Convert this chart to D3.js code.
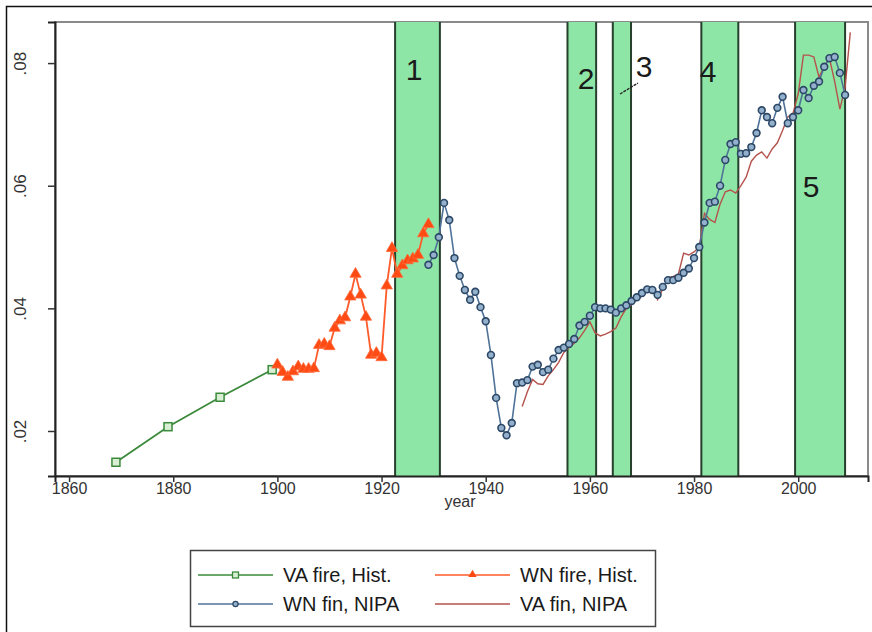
<!DOCTYPE html>
<html>
<head>
<meta charset="utf-8">
<script src="https://cdn.jsdelivr.net/npm/d3@7"></script>
<style>
  body { margin: 0; background: #fff; }
  svg { font-family: Arial, "Liberation Sans", sans-serif; }
</style>
</head>
<body>
<svg id="chart" width="872" height="632"></svg>
<script>
// VA fire, Hist. (decennial)
var vaFireYears = [1869, 1879, 1889, 1899];
var vaFireVals = [0.0149, 0.0207, 0.0255, 0.0300];

// WN fire, Hist. (annual 1900-1929)
var wnFireYears = d3.range(1900, 1930);
var wnFireVals = [0.0308, 0.0296, 0.0288, 0.0297, 0.0305, 0.0301, 0.0301, 0.0302, 0.0340, 0.0342,
                  0.0338, 0.0368, 0.0380, 0.0385, 0.0419, 0.0456, 0.0422, 0.0386, 0.0324, 0.0327,
                  0.0320, 0.0437, 0.0498, 0.0456, 0.0470, 0.0478, 0.0481, 0.0487, 0.0522, 0.0537];

// WN fin, NIPA (annual 1929-2009)
var wnFinYears = d3.range(1929, 2010);
var wnFinVals = [0.0471, 0.0487, 0.0516, 0.0572, 0.0544, 0.0482, 0.0453, 0.0430, 0.0414, 0.0427,
                 0.0402, 0.0379, 0.0324, 0.0254, 0.0205, 0.0193, 0.0213, 0.0278, 0.0279, 0.0283,
                 0.0305, 0.0308, 0.0296, 0.0300, 0.0318, 0.0332, 0.0336, 0.0342, 0.0350, 0.0372,
                 0.0378, 0.0388, 0.0402, 0.0400, 0.0400, 0.0398, 0.0393, 0.0400, 0.0405, 0.0412,
                 0.0418, 0.0425, 0.0431, 0.0430, 0.0422, 0.0435, 0.0446, 0.0446, 0.0450, 0.0458,
                 0.0465, 0.0482, 0.0500, 0.0540, 0.0572, 0.0574, 0.0600, 0.0642, 0.0668, 0.0671,
                 0.0652, 0.0653, 0.0663, 0.0686, 0.0723, 0.0712, 0.0702, 0.0727, 0.0745, 0.0702,
                 0.0712, 0.0723, 0.0756, 0.0743, 0.0763, 0.0770, 0.0794, 0.0808, 0.0810, 0.0784,
                 0.0748];

// VA fin, NIPA (annual 1947-2010)
var vaFinYears = d3.range(1947, 2011);
var vaFinVals = [0.0240, 0.0264, 0.0284, 0.0277, 0.0276, 0.0290, 0.0300, 0.0312, 0.0328, 0.0336,
                 0.0343, 0.0352, 0.0364, 0.0378, 0.0360, 0.0355, 0.0358, 0.0362, 0.0368, 0.0386,
                 0.0400, 0.0406, 0.0414, 0.0420, 0.0428, 0.0430, 0.0414, 0.0432, 0.0450, 0.0452,
                 0.0456, 0.0490, 0.0487, 0.0492, 0.0500, 0.0555, 0.0545, 0.0540, 0.0570, 0.0590,
                 0.0593, 0.0588, 0.0600, 0.0614, 0.0640, 0.0650, 0.0655, 0.0645, 0.0660, 0.0670,
                 0.0690, 0.0712, 0.0718, 0.0750, 0.0813, 0.0813, 0.0810, 0.0777, 0.0795, 0.0808,
                 0.0770, 0.0725, 0.0760, 0.0850];

// shaded episodes
var bandLabels = ['1', '2', '3', '4', '5'];
var bandStart = [1922.6, 1955.7, 1964.4, 1981.4, 1999.4];
var bandEnd = [1931.2, 1961.2, 1967.9, 1988.5, 2009.0];

var xTicks = [1860, 1880, 1900, 1920, 1940, 1960, 1980, 2000];
var yTicks = [0.02, 0.04, 0.06, 0.08];
var legendLabels = ['VA fire, Hist.', 'WN fire, Hist.', 'WN fin, NIPA', 'VA fin, NIPA'];

function zip(years, vals) {
    return years.map(function(yr, i) { return {year: yr, v: vals[i]}; });
}

var svg = d3.select('#chart');
var plot = {left: 55, top: 22, right: 868, bottom: 476};

var x = d3.scaleLinear().domain([1857.3, 2013.4]).range([plot.left, plot.right]);
var y = d3.scaleLinear().domain([0.01266, 0.0867]).range([plot.bottom, plot.top]);

// outer frame of the picture
svg.append('rect')
    .attr('x', 6.5).attr('y', 6.5)
    .attr('width', 870).attr('height', 640)
    .style('fill', 'none').style('stroke', '#111').style('stroke-width', 1.5);

// plot region frame
svg.append('rect')
    .attr('x', plot.left).attr('y', plot.top)
    .attr('width', plot.right - plot.left).attr('height', plot.bottom - plot.top)
    .style('fill', '#fff').style('stroke', '#8a8a8a').style('stroke-width', 2);

// bands
var bands = bandLabels.map(function(l, i) { return {label: l, a: bandStart[i], b: bandEnd[i]}; });
var bandG = svg.append('g');
bandG.selectAll('rect').data(bands).enter().append('rect')
    .attr('x', function(d) { return x(d.a); })
    .attr('y', plot.top)
    .attr('width', function(d) { return x(d.b) - x(d.a); })
    .attr('height', plot.bottom - plot.top)
    .style('fill', '#8ee6a6');
bands.forEach(function(d) {
    [d.a, d.b].forEach(function(edge) {
        bandG.append('line')
            .attr('x1', x(edge)).attr('x2', x(edge))
            .attr('y1', plot.top).attr('y2', plot.bottom)
            .style('stroke', '#26402d').style('stroke-width', 2);
    });
});

// band numbers (placed as in the original)
var labelPos = [[414, 80], [586, 89], [644, 77], [708, 82], [811, 197]];
bandG.selectAll('text.band').data(bands).enter().append('text')
    .attr('class', 'band')
    .attr('x', function(d, i) { return labelPos[i][0]; })
    .attr('y', function(d, i) { return labelPos[i][1]; })
    .attr('text-anchor', 'middle')
    .style('font-size', '30px')
    .style('fill', '#1a1a1a')
    .text(function(d) { return d.label; });
// little pointer for "3"
bandG.append('line')
    .attr('x1', 620).attr('y1', 94).attr('x2', 638).attr('y2', 83)
    .style('stroke', '#222').style('stroke-width', 1.3).style('stroke-dasharray', '3,1');

// axes
var xAxis = svg.append('g')
    .attr('transform', 'translate(0,' + plot.bottom + ')')
    .call(d3.axisBottom(x).tickValues(xTicks).tickSize(6).tickFormat(d3.format('d')));
xAxis.select('.domain').style('stroke', '#222').style('stroke-width', 2);
xAxis.selectAll('.tick line').style('stroke', '#333').style('stroke-width', 1.5);
xAxis.selectAll('.tick text')
    .attr('y', 7)
    .style('font-size', '16px').style('fill', '#333')
    .style('font-family', 'Arial, "Liberation Sans", sans-serif');

var yAxis = svg.append('g')
    .attr('transform', 'translate(' + plot.left + ',0)')
    .call(d3.axisLeft(y).tickValues(yTicks).tickSize(7)
        .tickFormat(function(d) { return d3.format('.2f')(d).replace(/^0/, ''); }));
yAxis.select('.domain').style('stroke', '#222').style('stroke-width', 2);
yAxis.selectAll('.tick line').style('stroke', '#333').style('stroke-width', 1.5);
yAxis.selectAll('.tick text')
    .attr('x', 0).attr('dy', 0)
    .attr('transform', 'translate(-29,0) rotate(-90)')
    .attr('text-anchor', 'middle')
    .style('font-size', '17px').style('fill', '#333')
    .style('font-family', 'Arial, "Liberation Sans", sans-serif');

svg.append('text')
    .attr('x', 460)
    .attr('y', 507)
    .attr('text-anchor', 'middle')
    .style('font-size', '16px').style('fill', '#333')
    .text('year');

// series
var line = d3.line()
    .x(function(d) { return x(d.year); })
    .y(function(d) { return y(d.v); });

var vaFire = zip(vaFireYears, vaFireVals);
var wnFire = zip(wnFireYears, wnFireVals);
var wnFin = zip(wnFinYears, wnFinVals);
var vaFin = zip(vaFinYears, vaFinVals);

var series = svg.append('g');

series.append('path').datum(vaFin)
    .attr('d', line)
    .style('fill', 'none').style('stroke', '#b5524c').style('stroke-width', 1.4);

series.append('path').datum(wnFin)
    .attr('d', line)
    .style('fill', 'none').style('stroke', '#4f7398').style('stroke-width', 1.6);
series.selectAll('circle.wn').data(wnFin).enter().append('circle')
    .attr('class', 'wn')
    .attr('cx', function(d) { return x(d.year); })
    .attr('cy', function(d) { return y(d.v); })
    .attr('r', 3.4)
    .style('fill', '#93b0cc').style('stroke', '#2c4866').style('stroke-width', 1.6);

series.append('path').datum(vaFire)
    .attr('d', line)
    .style('fill', 'none').style('stroke', '#3b8a3b').style('stroke-width', 1.8);
series.selectAll('rect.va').data(vaFire).enter().append('rect')
    .attr('class', 'va')
    .attr('x', function(d) { return x(d.year) - 4; })
    .attr('y', function(d) { return y(d.v) - 4; })
    .attr('width', 8).attr('height', 8)
    .style('fill', '#d9efd4').style('stroke', '#3b8a3b').style('stroke-width', 1.5);

var tri = d3.symbol().type(d3.symbolTriangle).size(55);
series.append('path').datum(wnFire)
    .attr('d', line)
    .style('fill', 'none').style('stroke', '#ff5a2a').style('stroke-width', 1.8);
series.selectAll('path.wnf').data(wnFire).enter().append('path')
    .attr('class', 'wnf')
    .attr('d', tri)
    .attr('transform', function(d) { return 'translate(' + x(d.year) + ',' + y(d.v) + ')'; })
    .style('fill', '#ff4a14').style('stroke', '#ff6a3a').style('stroke-width', 0.8);

// legend
var legend = svg.append('g');
legend.append('rect')
    .attr('x', 190.5).attr('y', 550.5).attr('width', 465).attr('height', 76)
    .style('fill', '#fff').style('stroke', '#444').style('stroke-width', 1.5);

var legendItems = [
    {label: legendLabels[0], color: '#3b8a3b', mark: 'square', col: 0, row: 0},
    {label: legendLabels[1], color: '#ff5a2a', mark: 'triangle', col: 1, row: 0},
    {label: legendLabels[2], color: '#4f7398', mark: 'circle', col: 0, row: 1},
    {label: legendLabels[3], color: '#b5524c', mark: 'none', col: 1, row: 1}
];
legendItems.forEach(function(it) {
    var x0 = it.col === 0 ? 198 : 435;
    var yy = it.row === 0 ? 575 : 604;
    var g = legend.append('g');
    g.append('line')
        .attr('x1', x0).attr('x2', x0 + 75).attr('y1', yy).attr('y2', yy)
        .style('stroke', it.color).style('stroke-width', 1.5);
    if (it.mark === 'square') {
        g.append('rect').attr('x', x0 + 34.5).attr('y', yy - 3).attr('width', 6).attr('height', 6)
            .style('fill', '#d9efd4').style('stroke', it.color).style('stroke-width', 1.3);
    } else if (it.mark === 'triangle') {
        g.append('path').attr('d', d3.symbol().type(d3.symbolTriangle).size(30))
            .attr('transform', 'translate(' + (x0 + 37.5) + ',' + (yy - 0.5) + ')')
            .style('fill', '#ff4a14');
    } else if (it.mark === 'circle') {
        g.append('circle').attr('cx', x0 + 37.5).attr('cy', yy).attr('r', 2.6)
            .style('fill', '#93b0cc').style('stroke', '#2c4866').style('stroke-width', 1.2);
    }
    g.append('text')
        .attr('x', x0 + 85).attr('y', yy + 7)
        .style('font-size', '20px').style('fill', '#1a1a1a')
        .text(it.label);
});
</script>
</body>
</html>
